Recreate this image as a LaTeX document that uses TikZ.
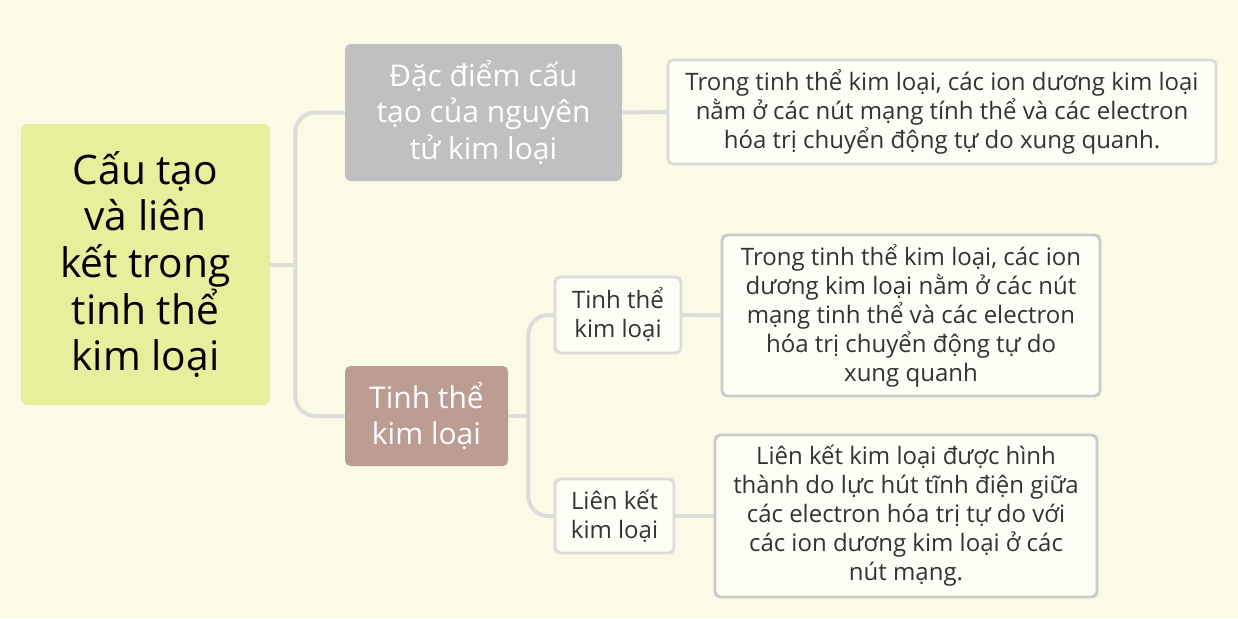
\documentclass[tikz,border=0pt]{standalone}
\usepackage{fontspec}
\setmainfont{Open Sans}
\usepackage{tikz}
\usetikzlibrary{calc}
\definecolor{bgcream}{HTML}{FAFAE7}
\definecolor{rootgreen}{HTML}{E7EE9C}
\definecolor{topgray}{HTML}{C0C0C0}
\definecolor{topbrown}{HTML}{BD9C91}
\definecolor{linkgray}{HTML}{DCDCD8}
\definecolor{boxedge}{HTML}{C9CACA}
\definecolor{txtdark}{HTML}{333333}
\tikzset{
    link/.style={draw=linkgray, line width=3pt, rounded corners=15pt},
    mainbox/.style={rounded corners=4pt, align=center, inner sep=0pt, text=white,
        font=\fontsize{22.5}{27.4}\selectfont},
    subbox/.style={draw=linkgray, line width=2.2pt, fill=white!60!bgcream, rounded corners=4pt,
        align=center, inner sep=0pt, text=txtdark, font=\fontsize{18}{21.75}\selectfont},
    notebox/.style={subbox, draw=boxedge}
}
\begin{document}
\begin{tikzpicture}[x=0.75pt,y=-0.75pt]
        \fill[bgcream] (0,0) rectangle (1238,618);
        \node[fill=rootgreen, rounded corners=5pt, align=center, inner sep=0pt,
            minimum width=186.75pt, minimum height=210.75pt,
            font=\fontsize{30.5}{35}\selectfont] (root) at (145.5,264.5)
            {Cấu tạo\\và liên\\kết trong\\tinh thể\\kim loại};
        \node[mainbox, fill=topgray, minimum width=207.75pt, minimum height=102.75pt]
            (dacdiem) at (483.5,112.5) {Đặc điểm cấu\\tạo của nguyên\\tử kim loại};
        \node[mainbox, fill=topbrown, minimum width=122.25pt, minimum height=75pt]
            (tinhthe) at (426.5,416) {Tinh thể\\kim loại};
        \node[subbox, minimum width=411pt, minimum height=78pt] (nguyentu) at (942,112)
            {Trong tinh thể kim loại, các ion dương kim loại\\nằm ở các nút mạng tính thể và các electron\\hóa trị chuyển động tự do xung quanh.};
        \node[subbox, minimum width=94.5pt, minimum height=57pt] (ttkl) at (618,315)
            {Tinh thể\\kim loại};
        \node[subbox, minimum width=89.25pt, minimum height=55.5pt] (lkkl) at (614.5,516)
            {Liên kết\\kim loại};
        \node[notebox, minimum width=283.5pt, minimum height=120.75pt] (ttnote) at (911,315.5)
            {Trong tinh thể kim loại, các ion\\dương kim loại nằm ở các nút\\mạng tinh thể và các electron\\hóa trị chuyển động tự do\\xung quanh};
        \node[notebox, minimum width=286.5pt, minimum height=121.5pt] (lknote) at (906,516)
            {Liên kết kim loại được hình\\thành do lực hút tĩnh điện giữa\\các electron hóa trị tự do với\\các ion dương kim loại ở các\\nút mạng.};
        \coordinate (rj) at ([xshift=18.75pt]root.east);
        \coordinate (bj) at ([xshift=15pt]tinhthe.east);
        \draw[link] (root.east) -- (rj);
        \draw[link] (dacdiem.west) -| (rj) |- (tinhthe.west);
        \draw[link] (tinhthe.east) -- (bj);
        \draw[link] (ttkl.west) -| (bj) |- (lkkl.west);
        \draw[link] (dacdiem.east) -- (nguyentu.west);
        \draw[link] (ttkl.east) -- (ttnote.west);
        \draw[link] (lkkl.east) -- (lknote.west);
    \end{tikzpicture}
\end{document}
